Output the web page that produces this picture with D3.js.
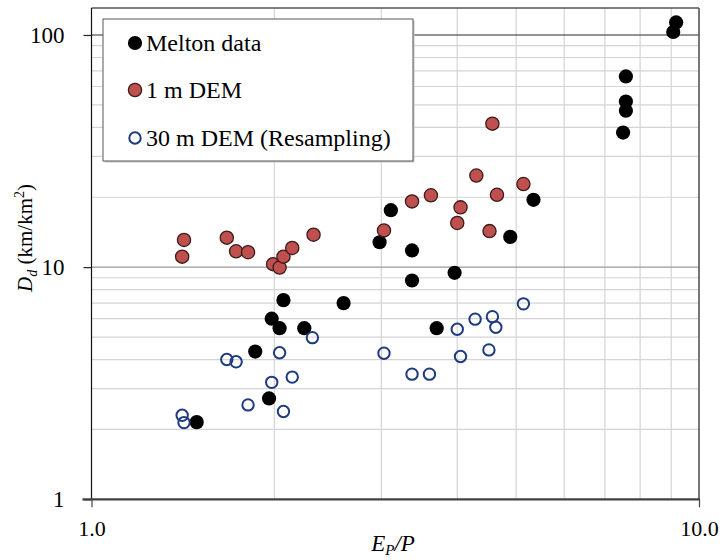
<!DOCTYPE html>
<html><head><meta charset="utf-8">
<script src="https://cdn.jsdelivr.net/npm/d3@7"></script>
<style>
body{margin:0;background:#fff}
svg text{font-family:"Liberation Serif","Times New Roman",serif;fill:#000}
</style>
</head><body>
<svg id="chart" width="722" height="560"></svg>
<script>
// ---- data ----
const meltonX = [9.17, 9.07, 7.58, 7.58, 7.58, 7.50, 3.11, 2.98, 3.37, 5.34, 4.89, 3.37, 3.96, 3.70, 2.07, 1.98, 2.04, 2.24, 1.86, 1.96, 1.49, 2.60];
const meltonY = [113.3, 103.0, 66.3, 51.7, 47.2, 38.0, 17.6, 12.8, 11.8, 19.5, 13.5, 8.76, 9.45, 5.46, 7.21, 6.00, 5.46, 5.46, 4.33, 2.72, 2.15, 7.00];
const dem1X = [1.42, 1.41, 1.67, 1.73, 1.81, 1.99, 2.04, 2.07, 2.14, 2.32, 3.03, 3.37, 3.62, 4.05, 4.00, 4.30, 4.65, 4.52, 5.14, 4.57];
const dem1Y = [13.1, 11.1, 13.4, 11.7, 11.6, 10.3, 9.96, 11.1, 12.1, 13.8, 14.4, 19.2, 20.4, 18.1, 15.5, 24.8, 20.5, 14.3, 22.8, 41.5];
const dem30X = [2.31, 2.04, 1.67, 1.73, 1.98, 2.14, 1.81, 2.07, 1.41, 1.42, 5.14, 4.57, 4.63, 4.28, 4.00, 3.03, 4.05, 4.51, 3.37, 3.60];
const dem30Y = [4.97, 4.28, 4.00, 3.91, 3.19, 3.36, 2.55, 2.39, 2.30, 2.14, 6.95, 6.12, 5.51, 5.97, 5.40, 4.26, 4.12, 4.40, 3.46, 3.46];
const seriesNames = ["Melton data", "1 m DEM", "30 m DEM (Resampling)"];
const xTicks = [1, 10];
const xTickLabels = ["1.0", "10.0"];
const yTicks = [1, 10, 100];
const yTickLabels = ["1", "10", "100"];
const xDomain = [1, 10];
const yDomain = [1, 130.7];

// ---- layout ----
const L = 91.5, R = 699, T = 8, B = 499.3;
const svg = d3.select("#chart");
const x = d3.scaleLog().domain(xDomain).range([L, R]);
const y = d3.scaleLog().domain(yDomain).range([B, T]);

// minor gridlines
const xMinor = d3.range(2, 10);
const yMinor = d3.range(2, 10).concat(d3.range(20, 100, 10));
const grid = svg.append("g");
grid.selectAll(".vx").data(xMinor).join("line")
  .attr("x1", d => x(d)).attr("x2", d => x(d)).attr("y1", T).attr("y2", B)
  .attr("stroke", "#d4d4d4").attr("stroke-width", 1.2);
grid.selectAll(".hy").data(yMinor).join("line")
  .attr("x1", L).attr("x2", R).attr("y1", d => y(d)).attr("y2", d => y(d))
  .attr("stroke", "#d4d4d4").attr("stroke-width", 1.2);
// major gridlines
grid.append("line").attr("x1", L).attr("x2", R).attr("y1", y(10)).attr("y2", y(10))
  .attr("stroke", "#9a9a9a").attr("stroke-width", 1.4);
grid.append("line").attr("x1", L).attr("x2", R).attr("y1", y(100)).attr("y2", y(100))
  .attr("stroke", "#2a2a2a").attr("stroke-width", 1.2);

// frame
svg.append("line").attr("x1", L).attr("x2", R).attr("y1", T).attr("y2", T).attr("stroke", "#555").attr("stroke-width", 1.6);
svg.append("line").attr("x1", R).attr("x2", R).attr("y1", T).attr("y2", B).attr("stroke", "#555").attr("stroke-width", 1.6);
svg.append("line").attr("x1", L).attr("x2", L).attr("y1", T).attr("y2", B).attr("stroke", "#111").attr("stroke-width", 1.2);

// axes
const yAxis = d3.axisLeft(y).tickValues(yTicks).tickFormat((d, i) => yTickLabels[i]).tickSize(8).tickPadding(19);
const gy = svg.append("g").attr("transform", `translate(${L},0)`).call(yAxis);
gy.select(".domain").remove();
gy.selectAll(".tick line").attr("stroke", "#222").attr("stroke-width", 1.2);
gy.selectAll(".tick text").style("font-size", "23px");

const xAxis = d3.axisBottom(x).tickValues(xTicks).tickFormat((d, i) => xTickLabels[i]).tickSize(8).tickPadding(13);
const gx = svg.append("g").attr("transform", `translate(0,${B})`).call(xAxis);
gx.select(".domain").remove();
gx.selectAll(".tick line").attr("stroke", "#444").attr("stroke-width", 1.2);
gx.selectAll(".tick text").style("font-size", "22px");

svg.append("line").attr("x1", L - 9).attr("x2", R + 1).attr("y1", B).attr("y2", B).attr("stroke", "#404040").attr("stroke-width", 2.2);

// axis titles
const xt = svg.append("text").attr("x", 393).attr("y", 551).attr("text-anchor", "middle").style("font-size", "23px").style("font-style", "italic");
xt.append("tspan").text("E");
xt.append("tspan").attr("dy", 4).style("font-size", "15px").text("P");
xt.append("tspan").attr("dy", -4).text("/P");

const yt = svg.append("text").attr("transform", "translate(32,238) rotate(-90)").attr("text-anchor", "middle").style("font-size", "21px");
yt.append("tspan").style("font-style", "italic").text("D");
yt.append("tspan").attr("dy", 5).style("font-size", "14px").style("font-style", "italic").text("d");
yt.append("tspan").attr("dy", -5).text(" (km/km");
yt.append("tspan").attr("dy", -8).style("font-size", "14px").text("2");
yt.append("tspan").attr("dy", 8).text(")");

// points
const pts = svg.append("g");
pts.selectAll(".m").data(meltonX.map((v, i) => [v, meltonY[i]])).join("circle")
  .attr("cx", d => x(d[0])).attr("cy", d => y(d[1])).attr("r", 7.1).attr("fill", "#000");
pts.selectAll(".r").data(dem1X.map((v, i) => [v, dem1Y[i]])).join("circle")
  .attr("cx", d => x(d[0])).attr("cy", d => y(d[1])).attr("r", 6.6)
  .attr("fill", "#c0504d").attr("stroke", "#3a1c1c").attr("stroke-width", 1.3);
pts.selectAll(".b").data(dem30X.map((v, i) => [v, dem30Y[i]])).join("circle")
  .attr("cx", d => x(d[0])).attr("cy", d => y(d[1])).attr("r", 5.7)
  .attr("fill", "none").attr("stroke", "#1f3b80").attr("stroke-width", 2);

// legend
const lg = svg.append("g");
lg.append("rect").attr("x", 104.5).attr("y", 20.5).attr("width", 310).attr("height", 142).attr("fill", "#c8c8c8");
lg.append("rect").attr("x", 103).attr("y", 19).attr("width", 310).attr("height", 142).attr("fill", "#fff").attr("stroke", "#666").attr("stroke-width", 1.1);
const lgY = [43, 90, 138];
lg.append("circle").attr("cx", 135).attr("cy", lgY[0]).attr("r", 7.1).attr("fill", "#000");
lg.append("circle").attr("cx", 135).attr("cy", lgY[1]).attr("r", 6.6).attr("fill", "#c0504d").attr("stroke", "#3a1c1c").attr("stroke-width", 1.3);
lg.append("circle").attr("cx", 135).attr("cy", lgY[2]).attr("r", 5.7).attr("fill", "none").attr("stroke", "#1f3b80").attr("stroke-width", 2);
seriesNames.forEach((n, i) => {
  lg.append("text").attr("x", 146).attr("y", lgY[i] + 8).style("font-size", "24px").text(n);
});
</script>
</body></html>
